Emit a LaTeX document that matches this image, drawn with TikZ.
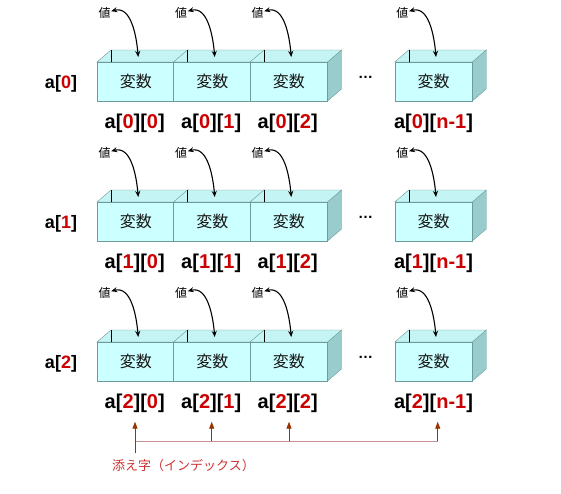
\documentclass[tikz,border=0pt]{standalone}
\usepackage{fontspec}
\setmainfont{Liberation Sans}
\newfontfamily\jpfont{Noto Sans CJK JP}
\usetikzlibrary{arrows.meta}

\definecolor{cellfront}{HTML}{CCFFFF}
\definecolor{celltop}{HTML}{C4F4F4}
\definecolor{cellside}{HTML}{99CCCC}
\definecolor{celledge}{HTML}{6E9A9A}
\definecolor{idxred}{HTML}{CC0000}
\definecolor{subbrown}{HTML}{993300}
\definecolor{subline}{HTML}{C89090}
\definecolor{subtext}{HTML}{CC3333}

\newcommand{\ix}[1]{\textcolor{idxred}{#1}}

\begin{document}
\begin{tikzpicture}[x=1pt, y=-1pt,
        front/.style={draw=celledge, fill=cellfront, minimum width=77.5pt, minimum height=39pt, inner sep=0pt, font=\jpfont\fontsize{16}{16}\selectfont, text=black!90},
        cell/.pic={
            \filldraw[draw=celledge, fill=cellside] (38.75,-19.5) -- (52.75,-31.5) -- (52.75,7.5) -- (38.75,19.5) -- cycle;
            \filldraw[draw=celledge, fill=celltop] (-38.75,-19.5) -- (-24.75,-31.5) -- (52.75,-31.5) -- (38.75,-19.5) -- cycle;
            \draw (-24.75,-31.5) -- (-24.75,-19.5);
            \node[front] (-f) at (0,0) {変数};
            \coordinate (-in) at (2.5,-24.5);
        },
        value/.style={inner sep=0.5pt, font=\jpfont\fontsize{12}{12}\selectfont},
        val/.style={{Stealth[length=6pt,width=5pt]}-{Stealth[length=6pt,width=5pt]}, line width=1.1pt},
        rowlab/.style={anchor=base, inner sep=0pt, font=\bfseries\fontsize{18}{18}\selectfont},
        idxlab/.style={anchor=base, inner sep=0pt, font=\bfseries\fontsize{20}{20}\selectfont},
        dots/.style={inner sep=0pt, font=\bfseries\fontsize{15}{15}\selectfont},
        sub/.style={inner sep=0pt, text=subtext, font=\jpfont\fontsize{13}{13}\selectfont},
        subarrow/.style={-{Triangle[length=7pt,width=5pt]}, subbrown, line width=0.9pt},
        subbar/.style={subline, line width=0.9pt}
    ]
    \useasboundingbox (0,0) rectangle (561,493);

    % Row a[0]
    \node[rowlab] (r0) at (61,88) {a[\ix{0}]};
    \pic (c00) at (135.75,81.5) {cell};
    \pic (c01) at (212.25,81.5) {cell};
    \pic (c02) at (288.75,81.5) {cell};
    \node[dots] (d0) at (365.5,77) {…};
    \pic (c03) at (433.5,81.5) {cell};
    \node[value] (v00) at (104.5,13) {値};
    \node[value] (v01) at (181,13) {値};
    \node[value] (v02) at (257.5,13) {値};
    \node[value] (v03) at (402.25,13) {値};
    \draw[val] (v00) to[out=15, in=95] (c00-in);
    \draw[val] (v01) to[out=15, in=95] (c01-in);
    \draw[val] (v02) to[out=15, in=95] (c02-in);
    \draw[val] (v03) to[out=15, in=95] (c03-in);
    \node[idxlab] (l00) at (134.75,128) {a[\ix{0}][\ix{0}]};
    \node[idxlab] (l01) at (211.25,128) {a[\ix{0}][\ix{1}]};
    \node[idxlab] (l02) at (287.75,128) {a[\ix{0}][\ix{2}]};
    \node[idxlab] (l03) at (433.5,128) {a[\ix{0}][\ix{n-1}]};

    % Row a[1]
    \node[rowlab] (r1) at (61,228) {a[\ix{1}]};
    \pic (c10) at (135.75,221.5) {cell};
    \pic (c11) at (212.25,221.5) {cell};
    \pic (c12) at (288.75,221.5) {cell};
    \node[dots] (d1) at (365.5,217) {…};
    \pic (c13) at (433.5,221.5) {cell};
    \node[value] (v10) at (104.5,153) {値};
    \node[value] (v11) at (181,153) {値};
    \node[value] (v12) at (257.5,153) {値};
    \node[value] (v13) at (402.25,153) {値};
    \draw[val] (v10) to[out=15, in=95] (c10-in);
    \draw[val] (v11) to[out=15, in=95] (c11-in);
    \draw[val] (v12) to[out=15, in=95] (c12-in);
    \draw[val] (v13) to[out=15, in=95] (c13-in);
    \node[idxlab] (l10) at (134.75,268) {a[\ix{1}][\ix{0}]};
    \node[idxlab] (l11) at (211.25,268) {a[\ix{1}][\ix{1}]};
    \node[idxlab] (l12) at (287.75,268) {a[\ix{1}][\ix{2}]};
    \node[idxlab] (l13) at (433.5,268) {a[\ix{1}][\ix{n-1}]};

    % Row a[2]
    \node[rowlab] (r2) at (61,368) {a[\ix{2}]};
    \pic (c20) at (135.75,361.5) {cell};
    \pic (c21) at (212.25,361.5) {cell};
    \pic (c22) at (288.75,361.5) {cell};
    \node[dots] (d2) at (365.5,357) {…};
    \pic (c23) at (433.5,361.5) {cell};
    \node[value] (v20) at (104.5,293) {値};
    \node[value] (v21) at (181,293) {値};
    \node[value] (v22) at (257.5,293) {値};
    \node[value] (v23) at (402.25,293) {値};
    \draw[val] (v20) to[out=15, in=95] (c20-in);
    \draw[val] (v21) to[out=15, in=95] (c21-in);
    \draw[val] (v22) to[out=15, in=95] (c22-in);
    \draw[val] (v23) to[out=15, in=95] (c23-in);
    \node[idxlab] (l20) at (134.75,408) {a[\ix{2}][\ix{0}]};
    \node[idxlab] (l21) at (211.25,408) {a[\ix{2}][\ix{1}]};
    \node[idxlab] (l22) at (287.75,408) {a[\ix{2}][\ix{2}]};
    \node[idxlab] (l23) at (433.5,408) {a[\ix{2}][\ix{n-1}]};

    % Index pointers
    \node[sub] (s) at (183.5,466) {添え字（インデックス）};
    \coordinate (s0) at (135,453);
    \coordinate (h0) at (135,441);
    \coordinate (h1) at (211.7,441);
    \coordinate (h2) at (289,441);
    \coordinate (h3) at (437.7,441);
    \coordinate (t0) at (135,421.7);
    \coordinate (t1) at (211.7,421.7);
    \coordinate (t2) at (289,421.7);
    \coordinate (t3) at (437.7,421.7);
    \draw[subbar] (h0) -- (h3);
    \draw[subarrow] (s0) -- (t0);
    \draw[subarrow] (h1) -- (t1);
    \draw[subarrow] (h2) -- (t2);
    \draw[subarrow] (h3) -- (t3);

\end{tikzpicture}
\end{document}
